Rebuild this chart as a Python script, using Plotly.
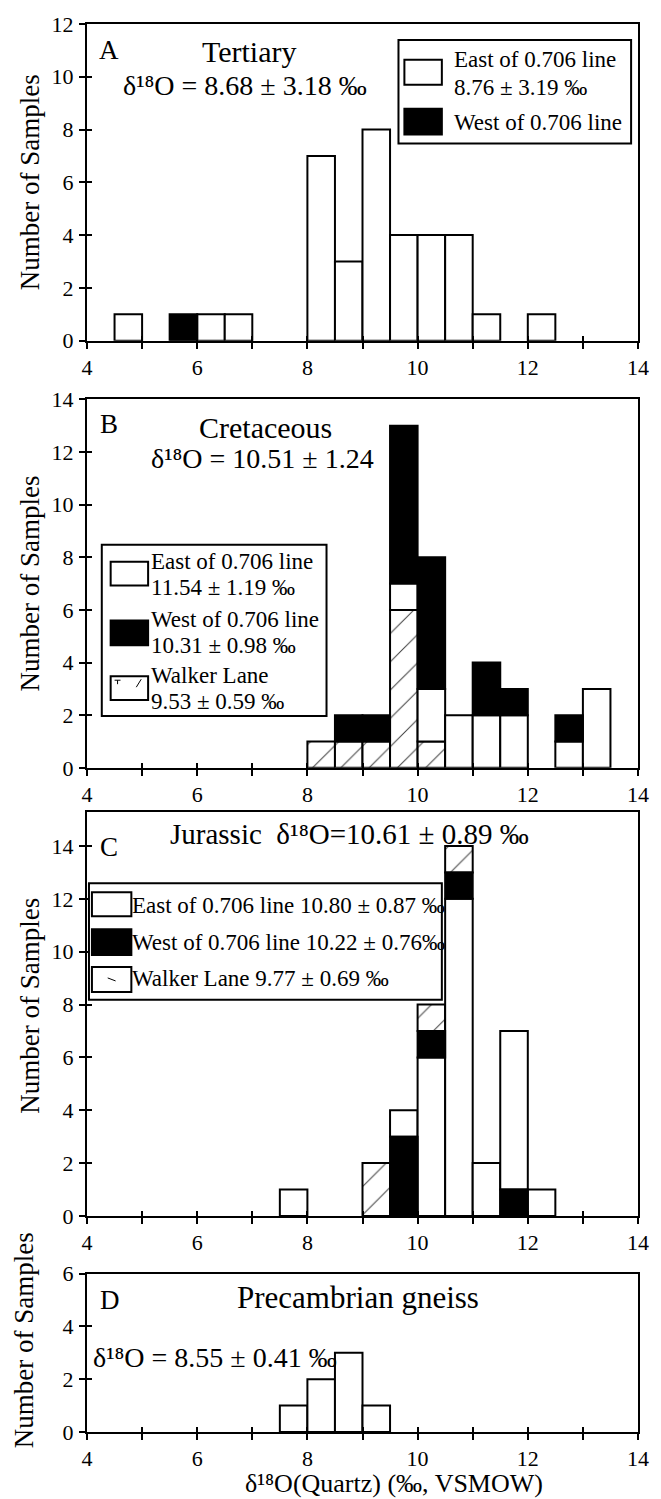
import plotly.graph_objects as go

# ---------------- data (bin lower edges, counts per group) ----------------
BIN_W = 0.5

A_bins = [4.5, 5.5, 6.0, 6.5, 8.0, 8.5, 9.0, 9.5, 10.0, 10.5, 11.0, 12.0]
A_east = [1, 0, 1, 1, 7, 3, 8, 4, 4, 4, 1, 1]
A_west = [0, 1, 0, 0, 0, 0, 0, 0, 0, 0, 0, 0]
A_walker = [0] * 12
A_order = ["LEW"] * 12

B_bins = [8.0, 8.5, 9.0, 9.5, 10.0, 10.5, 11.0, 11.5, 12.5, 13.0]
B_walker = [1, 1, 1, 6, 1, 0, 0, 0, 0, 0]
B_east = [0, 0, 0, 1, 2, 2, 2, 2, 1, 3]
B_west = [0, 1, 1, 6, 5, 0, 2, 1, 1, 0]
B_order = ["LEW"] * 10

C_bins = [7.5, 9.0, 9.5, 10.0, 10.5, 11.0, 11.5, 12.0]
C_east = [1, 0, 1, 6, 12, 2, 6, 1]
C_west = [0, 0, 3, 1, 1, 0, 1, 0]
C_walker = [0, 2, 0, 1, 1, 0, 0, 0]
C_order = ["EWL", "EWL", "WEL", "EWL", "EWL", "EWL", "WEL", "EWL"]

D_bins = [7.5, 8.0, 8.5, 9.0]
D_east = [1, 2, 3, 1]
D_west = [0, 0, 0, 0]
D_walker = [0, 0, 0, 0]
D_order = ["EWL"] * 4

X_RANGE = [4, 14]
Y_MAX = [12, 14, 15.3, 6]

panels = [
    (A_bins, A_east, A_west, A_walker, A_order),
    (B_bins, B_east, B_west, B_walker, B_order),
    (C_bins, C_east, C_west, C_walker, C_order),
    (D_bins, D_east, D_west, D_walker, D_order),
]

# ---------------- layout geometry (pixels) ----------------
W, H = 661, 1499
L, R, T, BOT = 87, 646, 18, 1432
FONT = "Liberation Serif, Times New Roman, serif"


def fx(px):
    return (px - L) / (R - L)


def fy(py):
    return (BOT - py) / (BOT - T)


domains = [
    [fy(336), fy(18)],
    [fy(765), fy(395)],
    [fy(1215), fy(809)],
    [fy(1432), fy(1273)],
]

styles = {
    "E": dict(color="white", line=dict(color="black", width=2)),
    "W": dict(color="black", line=dict(color="black", width=2)),
    "L": dict(color="white", line=dict(color="black", width=2),
              pattern=dict(shape="/", fgcolor="black", bgcolor="white",
                           size=20, solidity=0.05, fgopacity=0.75)),
}

fig = go.Figure()

for i, (bins, east, west, walker, order) in enumerate(panels):
    ax = "" if i == 0 else str(i + 1)
    counts = {"E": east, "W": west, "L": walker}
    segs = {"E": ([], [], []), "W": ([], [], []), "L": ([], [], [])}
    for j, b in enumerate(bins):
        base = 0
        for k in order[j]:
            c = counts[k][j]
            if c > 0:
                segs[k][0].append(b + BIN_W / 2)
                segs[k][1].append(c)
                segs[k][2].append(base)
            base += c
    for k in "LEW":
        xs, ys, bs = segs[k]
        if not xs:
            continue
        fig.add_trace(go.Bar(
            x=xs, y=ys, base=bs, width=BIN_W, marker=styles[k],
            xaxis="x" + ax, yaxis="y" + ax, showlegend=False,
            hoverinfo="skip"))
    # dummy trace for overlay axes (inside half of the crossing ticks)
    fig.add_trace(go.Scatter(x=[None], y=[None], xaxis="x" + str(i + 5),
                             yaxis="y" + str(i + 5), showlegend=False,
                             hoverinfo="skip"))

tickfont = dict(family=FONT, size=22, color="black")
tk = dict(ticklen=6, tickwidth=2, tickcolor="black")
lay = {}
for i in range(4):
    ax = "" if i == 0 else str(i + 1)
    lay["xaxis" + ax] = dict(
        domain=[0, 1], anchor="y" + ax, range=X_RANGE,
        tickmode="linear", tick0=4, dtick=2, ticks="outside", **tk,
        minor=dict(tickmode="linear", tick0=4, dtick=1, ticks="outside",
                   showgrid=False, **tk),
        showline=True, linewidth=2, linecolor="black", mirror=True,
        showgrid=False, zeroline=False, tickfont=tickfont,
        fixedrange=True)
    lay["yaxis" + ax] = dict(
        domain=domains[i], anchor="x" + ax, range=[0, Y_MAX[i]],
        tickmode="linear", tick0=0, dtick=2, ticks="outside", **tk,
        showline=True, linewidth=2, linecolor="black", mirror=True,
        showgrid=False, zeroline=False, tickfont=tickfont,
        ticklabelstandoff=1, fixedrange=True)
    o = str(i + 5)
    lay["xaxis" + o] = dict(
        overlaying="x" + ax, anchor="y" + o, range=X_RANGE,
        tickmode="linear", tick0=4, dtick=1, ticks="inside", ticklen=5,
        tickwidth=2, tickcolor="black", showticklabels=False,
        showline=False, showgrid=False, zeroline=False, fixedrange=True)
    lay["yaxis" + o] = dict(
        overlaying="y" + ax, anchor="x" + o, range=[0, Y_MAX[i]],
        tickmode="linear", tick0=0, dtick=2, ticks="inside", ticklen=5,
        tickwidth=2, tickcolor="black", showticklabels=False,
        showline=False, showgrid=False, zeroline=False, fixedrange=True)

D18 = "δ¹⁸O"
texts = [
    # (text, x px, y px, xanchor, yanchor, size, angle)
    ("A", 98, 44, "left", "middle", 27, 0),
    ("Tertiary", 252, 46, "center", "middle", 30, 0),
    (D18 + " = 8.68 ± 3.18 ‰", 247, 80, "center", "middle", 28, 0),
    ("B", 99, 420, "left", "middle", 27, 0),
    ("Cretaceous", 268, 423, "center", "middle", 30, 0),
    (D18 + " = 10.51 ± 1.24", 265, 454, "center", "middle", 28, 0),
    ("C", 99, 845, "left", "middle", 27, 0),
    ("Jurassic  " + D18 + "=10.61 ± 0.89 ‰", 353, 831, "center", "middle", 29, 0),
    ("D", 99, 1299, "left", "middle", 27, 0),
    ("Precambrian gneiss", 362, 1297, "center", "middle", 31, 0),
    (D18 + " = 8.55 ± 0.41 ‰", 92, 1357, "left", "middle", 28, 0),
    (D18 + "(Quartz) (‰, VSMOW)", 398, 1499, "center", "bottom", 26, 0),
    # legend A
    ("East of 0.706 line", 458, 54, "left", "middle", 23, 0),
    ("8.76 ± 3.19 ‰", 458, 82, "left", "middle", 23, 0),
    ("West of 0.706 line", 458, 117, "left", "middle", 23, 0),
    # legend B
    ("East of 0.706 line", 151, 558, "left", "middle", 23, 0),
    ("11.54 ± 1.19 ‰", 151, 584, "left", "middle", 23, 0),
    ("West of 0.706 line", 151, 616, "left", "middle", 23, 0),
    ("10.31 ± 0.98 ‰", 151, 642, "left", "middle", 23, 0),
    ("Walker Lane", 151, 672, "left", "middle", 23, 0),
    ("9.53 ± 0.59 ‰", 151, 698, "left", "middle", 23, 0),
    # legend C
    ("East of 0.706 line 10.80 ± 0.87 ‰", 132, 903, "left", "middle", 23, 0),
    ("West of 0.706 line 10.22 ± 0.76‰", 132, 940, "left", "middle", 23, 0),
    ("Walker Lane 9.77 ± 0.69 ‰", 132, 977, "left", "middle", 23, 0),
    # y titles
    ("Number of Samples", 29, 177, "center", "middle", 27, -90),
    ("Number of Samples", 29, 580, "center", "middle", 27, -90),
    ("Number of Samples", 29, 1004, "center", "middle", 27, -90),
    ("Number of Samples", 23, 1340, "center", "middle", 27, -90),
]
annotations = []
for t, x, y, xa, ya, s, ang in texts:
    annotations.append(dict(
        text=t, x=fx(x), y=fy(y), xref="paper", yref="paper",
        xanchor=xa, yanchor=ya, showarrow=False, textangle=ang,
        borderpad=0,
        font=dict(family=FONT, size=s, color="black")))


def rect(x0, y0, x1, y1, fill="white", width=2):
    return dict(type="rect", xref="paper", yref="paper",
                x0=fx(x0), x1=fx(x1), y0=fy(y1), y1=fy(y0),
                fillcolor=fill, line=dict(color="black", width=width),
                layer="above")


def seg(x0, y0, x1, y1, width=1):
    return dict(type="line", xref="paper", yref="paper",
                x0=fx(x0), x1=fx(x1), y0=fy(y0), y1=fy(y1),
                line=dict(color="black", width=width), layer="above")


shapes = [
    # legend A
    rect(403, 34, 639, 138, width=2),
    rect(409, 54, 447, 79),
    rect(409, 103, 447, 129, fill="black"),
    # legend B
    rect(102, 541, 330, 713, width=2),
    rect(111, 558, 149, 582),
    rect(111, 617, 149, 642, fill="black"),
    rect(111, 673, 149, 697),
    seg(115, 677, 121, 677), seg(118, 677, 118, 681),
    seg(142, 676, 137, 684),
    # legend C
    rect(89, 881, 447, 998, width=2),
    rect(92, 890, 132, 914),
    rect(92, 927, 132, 953, fill="black"),
    rect(92, 965, 132, 990),
    seg(108, 976, 116, 979),
]

fig.update_layout(
    width=W, height=H,
    margin=dict(l=L, r=W - R, t=T, b=H - BOT),
    paper_bgcolor="white", plot_bgcolor="white",
    barmode="overlay", bargap=0,
    showlegend=False,
    annotations=annotations, shapes=shapes,
    font=dict(family=FONT, color="black"),
    **lay)

fig.write_html(
    "out.html",
    config={"displayModeBar": False, "staticPlot": True},
    post_script="document.body.style.margin='0px';"
                "document.documentElement.style.overflow='hidden';")
